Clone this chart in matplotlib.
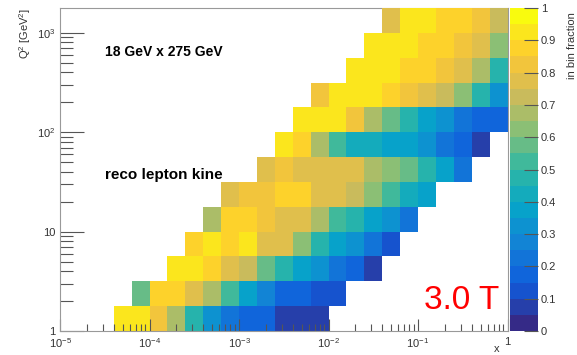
import numpy as np
import matplotlib
matplotlib.use('Agg')
import matplotlib.pyplot as plt
from matplotlib.colors import LinearSegmentedColormap, ListedColormap, BoundaryNorm
from matplotlib.ticker import LogLocator, NullFormatter

plt.rcParams['font.family'] = ['Liberation Sans', 'DejaVu Sans']
plt.rcParams['mathtext.fontset'] = 'custom'
plt.rcParams['mathtext.rm'] = 'Liberation Sans'
plt.rcParams['mathtext.it'] = 'Liberation Sans:italic'
plt.rcParams['mathtext.bf'] = 'Liberation Sans:bold'

# histogram binning: log10(x) in [-5, 0] with 25 bins, log10(Q2) in [0, 3.25] with 13 bins
logx_range = (-5.0, 0.0)
n_xbins = 25
logq2_range = (0.0, 3.25)
n_q2bins = 13

# first filled x bin of each Q2 row (bottom to top) and the in-bin fractions
row_start = [3, 4, 6, 7, 8, 9, 11, 12, 13, 14, 16, 17, 18]
row_frac = [
    [0.92, 0.92, 0.83, 0.68, 0.48, 0.33, 0.23, 0.18, 0.18, 0.07, 0.07, 0.07],
    [0.58, 0.87, 0.87, 0.78, 0.68, 0.53, 0.38, 0.28, 0.18, 0.18, 0.13, 0.13],
    [0.92, 0.92, 0.87, 0.78, 0.73, 0.58, 0.48, 0.38, 0.33, 0.23, 0.18, 0.07],
    [0.87, 0.92, 0.87, 0.92, 0.78, 0.78, 0.63, 0.48, 0.38, 0.33, 0.23, 0.13],
    [0.68, 0.87, 0.87, 0.83, 0.78, 0.78, 0.68, 0.53, 0.48, 0.38, 0.33, 0.23],
    [0.78, 0.83, 0.83, 0.87, 0.87, 0.78, 0.78, 0.73, 0.63, 0.53, 0.43, 0.38],
    [0.78, 0.83, 0.78, 0.78, 0.78, 0.78, 0.68, 0.63, 0.58, 0.48, 0.38, 0.23],
    [0.92, 0.87, 0.68, 0.53, 0.43, 0.43, 0.38, 0.38, 0.33, 0.23, 0.18, 0.07],
    [0.92, 0.92, 0.92, 0.83, 0.68, 0.58, 0.48, 0.38, 0.33, 0.23, 0.18, 0.18],
    [0.83, 0.92, 0.92, 0.92, 0.87, 0.83, 0.78, 0.73, 0.63, 0.48, 0.33],
    [0.92, 0.92, 0.92, 0.87, 0.87, 0.83, 0.78, 0.68, 0.48],
    [0.92, 0.92, 0.92, 0.87, 0.87, 0.83, 0.78, 0.63],
    [0.78, 0.92, 0.92, 0.87, 0.87, 0.83, 0.73],
]

x_ticks = [1e-5, 1e-4, 1e-3, 1e-2, 1e-1, 1]
x_ticklabels = ['$10^{-5}$', '$10^{-4}$', '$10^{-3}$', '$10^{-2}$', '$10^{-1}$', '1']
y_ticks = [1, 10, 100, 1000]
y_ticklabels = ['1', '10', '$10^{2}$', '$10^{3}$']
z_ticks = np.round(np.arange(0, 1.01, 0.1), 1)
z_ticklabels = ['0', '0.1', '0.2', '0.3', '0.4', '0.5', '0.6', '0.7', '0.8', '0.9', '1']

frac = np.full((n_q2bins, n_xbins), np.nan)
for j, (s, vals) in enumerate(zip(row_start, row_frac)):
    frac[j, s:s + len(vals)] = vals

x_edges = np.logspace(logx_range[0], logx_range[1], n_xbins + 1)
q2_edges = np.logspace(logq2_range[0], logq2_range[1], n_q2bins + 1)

# ROOT kBird palette, 20 contour levels
stops = [0.0, 0.125, 0.25, 0.375, 0.5, 0.625, 0.75, 0.875, 1.0]
red = [0.2082, 0.0592, 0.0780, 0.0232, 0.1802, 0.5301, 0.8186, 0.9956, 0.9764]
green = [0.1664, 0.3599, 0.5041, 0.6419, 0.7178, 0.7492, 0.7328, 0.7862, 0.9832]
blue = [0.5293, 0.8684, 0.8385, 0.7914, 0.6425, 0.4662, 0.3499, 0.1968, 0.0539]
bird = LinearSegmentedColormap.from_list('bird', list(zip(stops, zip(red, green, blue))))
n_levels = 20
cmap = ListedColormap(bird(np.linspace(0, 1, n_levels)))
norm = BoundaryNorm(np.linspace(0, 1, n_levels + 1), cmap.N)

fig = plt.figure(figsize=(5.77, 3.55), dpi=100)
ax = fig.add_axes([60 / 577, 24 / 355, 447.5 / 577, 323 / 355])
cax = fig.add_axes([510 / 577, 24 / 355, 28 / 577, 323 / 355])

mesh = ax.pcolormesh(x_edges, q2_edges, frac, cmap=cmap, norm=norm)
ax.set_xscale('log')
ax.set_yscale('log')
ax.set_xlim(x_edges[0], x_edges[-1])
ax.set_ylim(q2_edges[0], q2_edges[-1])

ax.set_xticks(x_ticks)
ax.set_xticklabels(x_ticklabels)
ax.set_yticks(y_ticks)
ax.set_yticklabels(y_ticklabels)
ax.xaxis.set_minor_locator(LogLocator(base=10, subs=np.arange(2, 10)))
ax.yaxis.set_minor_locator(LogLocator(base=10, subs=np.arange(2, 10)))
ax.xaxis.set_minor_formatter(NullFormatter())
ax.yaxis.set_minor_formatter(NullFormatter())

ax.tick_params(which='both', direction='in', top=False, right=False,
               color='#555555', labelcolor='#333333', labelsize=8, width=0.8)
ax.tick_params(axis='y', which='major', length=17, pad=3)
ax.tick_params(axis='y', which='minor', length=9)
ax.tick_params(axis='x', which='major', length=9, pad=4)
ax.tick_params(axis='x', which='minor', length=5)
for side, sp in ax.spines.items():
    sp.set_color('#999999')
    sp.set_linewidth(0.8)
ax.spines['top'].set_zorder(0.5)

cb = fig.colorbar(mesh, cax=cax, ticks=z_ticks)
cb.outline.set_visible(False)
cb.ax.set_yticklabels(z_ticklabels)
cax.tick_params(direction='in', length=10, color='#555555', labelcolor='#333333',
                labelsize=8, width=0.8, pad=2)
cax.minorticks_off()

fig.text(25 / 577, 1 - 8 / 355, 'Q$^{2}$ [GeV$^{2}$]', rotation=90,
         ha='center', va='top', fontsize=8, color='#333333')
fig.text(572 / 577, 1 - 12 / 355, 'in bin fraction', rotation=90,
         ha='center', va='top', fontsize=8, color='#333333')
fig.text(500 / 577, 1 / 355, 'x', ha='right', va='bottom', fontsize=8, color='#333333')

ax.text(0.10, 0.865, '18 GeV x 275 GeV', transform=ax.transAxes,
        fontsize=10, fontweight='bold', ha='left', va='center')
ax.text(0.10, 0.483, 'reco lepton kine', transform=ax.transAxes,
        fontsize=11, fontweight='bold', ha='left', va='center')
ax.text(0.898, 0.093, '3.0 T', transform=ax.transAxes,
        fontsize=24, color='#ff0000', ha='center', va='center')

fig.savefig('out.png', dpi=100)
